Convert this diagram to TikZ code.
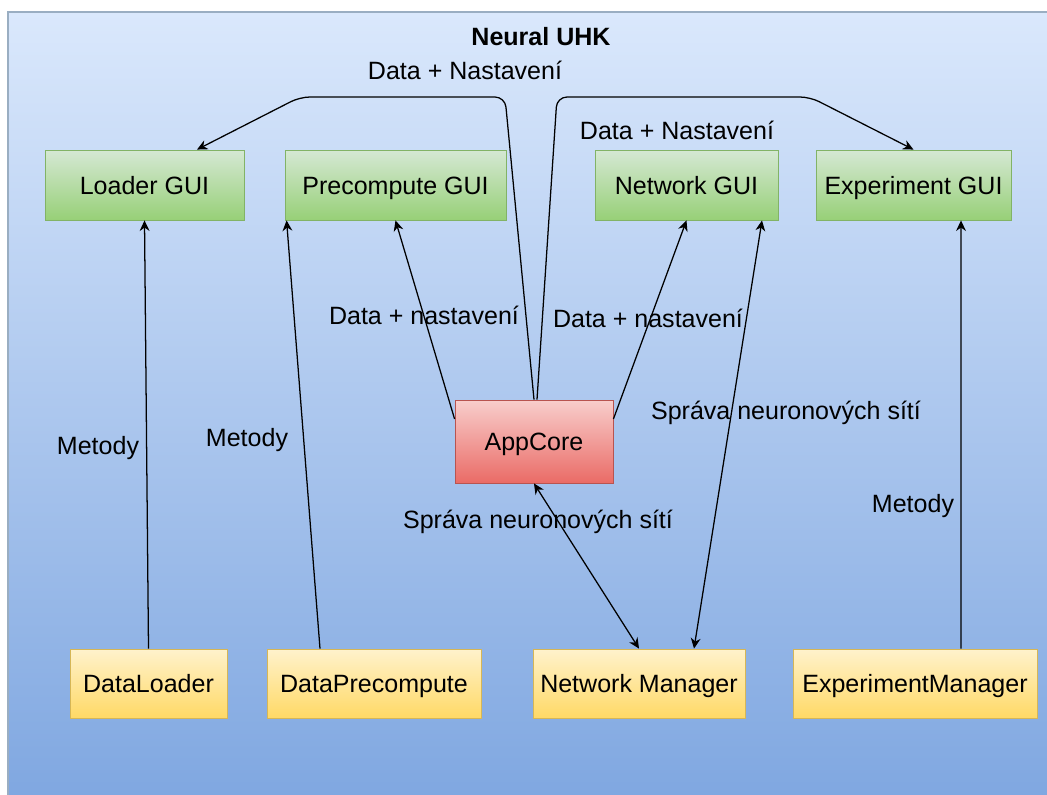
\documentclass[tikz,border=0pt]{standalone}
\usepackage{fontspec}
\setmainfont{Liberation Sans}
\usetikzlibrary{positioning, arrows.meta}

\definecolor{bgTop}{HTML}{DAE8FC}
\definecolor{bgBot}{HTML}{7EA6E0}
\definecolor{bgLine}{HTML}{9AAEC2}
\definecolor{guiTop}{HTML}{D5E8D4}
\definecolor{guiBot}{HTML}{97D077}
\definecolor{guiLine}{HTML}{82B366}
\definecolor{coreTop}{HTML}{F8CECC}
\definecolor{coreBot}{HTML}{EA6B66}
\definecolor{coreLine}{HTML}{B85450}
\definecolor{mgrTop}{HTML}{FFF2CC}
\definecolor{mgrBot}{HTML}{FFD966}
\definecolor{mgrLine}{HTML}{D6B656}

\begin{document}
\begin{tikzpicture}[
            > = {Stealth[length=7.5pt, width=7pt]},
            on grid,
            font = \fontsize{17.8}{21}\selectfont,
            blockbox/.style = {rectangle, minimum height=1.75cm, inner sep=0pt, line width=0.6pt,
                               text height=14pt, text depth=1pt},
            gui/.style = {blockbox, draw=guiLine, top color=guiTop, bottom color=guiBot},
            core/.style = {blockbox, minimum height=2.075cm, draw=coreLine, top color=coreTop, bottom color=coreBot},
            manager/.style = {blockbox, minimum height=1.725cm, draw=mgrLine, top color=mgrTop, bottom color=mgrBot},
            lbl/.style = {inner sep=0pt},
            every edge/.style = {draw, ->, line width=0.9pt},
            link/.style = {draw, ->, line width=0.9pt, rounded corners=0.25cm}
        ]

            \useasboundingbox (0,0) rectangle (26.175,-19.85);

            % Background
            \draw[bgLine, line width=0.8pt, top color=bgTop, bottom color=bgBot]
                (0.2,-0.3) rectangle (26.6,-20.3);
            \node[font=\fontsize{17.8}{21}\selectfont\bfseries] (title) at (13.525,-0.925) {Neural UHK};

            % GUI row
            \node[gui, minimum width=4.975cm] (lgui) at (3.6125,-4.625) {Loader GUI};
            \node[gui, minimum width=5.525cm] (pgui) [right=6.275cm of lgui] {Precompute GUI};
            \node[gui, minimum width=4.575cm] (ngui) [right=7.275cm of pgui] {Network GUI};
            \node[gui, minimum width=4.875cm] (egui) [right=5.675cm of ngui] {Experiment GUI};

            % Core
            \node[core, minimum width=3.95cm] (core) [below right=6.4125cm and 3.4625cm of pgui] {AppCore};

            % Managers
            \node[manager, minimum width=3.925cm] (dl) [below right=12.4625cm and 0.1cm of lgui] {DataLoader};
            \node[manager, minimum width=5.35cm] (dp) [right=5.6375cm of dl] {DataPrecompute};
            \node[manager, minimum width=5.3cm] (nm) [right=6.625cm of dp] {Network Manager};
            \node[manager, minimum width=6.1cm] (em) [right=6.9cm of nm] {ExperimentManager};

            % Data + settings from the core to the outer GUIs
            \coordinate (ltop1) at (12.625,-2.425);
            \coordinate (ltop2) at (7.5,-2.425);
            \coordinate (rtop1) at (13.925,-2.425);
            \coordinate (rtop2) at (20.25,-2.425);
            \draw[link] (core.north) -- (ltop1) -- (ltop2) -- ([xshift=1.3125cm]lgui.north);
            \draw[link] ([xshift=0.075cm]core.north) -- (rtop1) -- (rtop2) -- (egui.north);
            \node[lbl] (lblL) at (11.625,-1.75) {Data + Nastavení};
            \node[lbl] (lblR) at (16.925,-3.25) {Data + Nastavení};

            % Data + settings to the inner GUIs
            \path ([yshift=0.5625cm]core.west) edge (pgui.south);
            \path ([yshift=0.5625cm]core.east) edge (ngui.south);
            \node[lbl] (lblP) at (10.6,-7.875) {Data + nastavení};
            \node[lbl] (lblN) at (16.2,-7.95) {Data + nastavení};

            % Network management
            \path (core.south) edge[<->] (nm.north);
            \path ([xshift=1.375cm]nm.north) edge[<->] ([xshift=1.8875cm]ngui.south);
            \node[lbl] (lblC) at (13.45,-13.05) {Správa neuronových sítí};
            \node[lbl] (lblG) at (19.65,-10.325) {Správa neuronových sítí};

            % Methods
            \path (dl.north) edge (lgui.south);
            \path ([xshift=-1.35cm]dp.north) edge ([xshift=0.05cm]pgui.south west);
            \path ([xshift=1.15cm]em.north) edge ([xshift=1.1875cm]egui.south);
            \node[lbl] (lblD) at (2.45,-11.2) {Metody};
            \node[lbl] (lblE) at (6.175,-11.0) {Metody};
            \node[lbl] (lblX) at (22.825,-12.65) {Metody};

        \end{tikzpicture}
\end{document}
